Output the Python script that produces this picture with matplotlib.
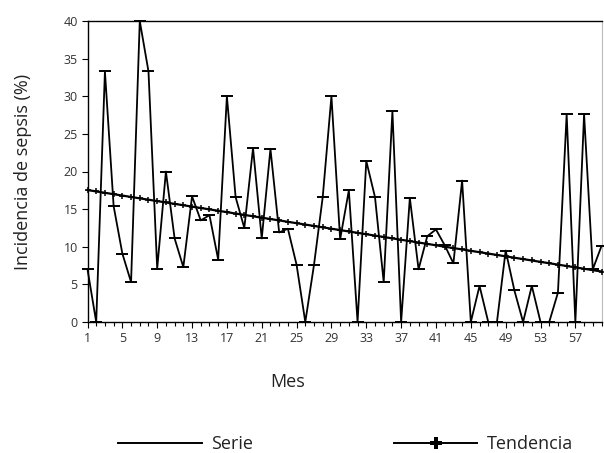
import numpy as np
import matplotlib
matplotlib.use("Agg")
import matplotlib.pyplot as plt
from matplotlib.lines import Line2D

# ---- data ----
months = list(range(1, 61))
incidence = [7.0, 0.0, 33.3, 15.4, 9.1, 5.3, 40.0, 33.3, 7.1, 20.0,
             11.1, 7.3, 16.7, 13.5, 14.2, 8.3, 30.0, 16.6, 12.5, 23.1,
             11.1, 23.0, 11.9, 12.4, 7.6, 0.0, 7.6, 16.6, 30.0, 11.0,
             17.5, 0.0, 21.4, 16.6, 5.3, 28.0, 0.0, 16.5, 7.0, 11.4,
             12.3, 10.2, 7.8, 18.8, 0.0, 4.8, 0.0, 0.0, 9.5, 4.2,
             0.0, 4.8, 0.0, 0.0, 3.9, 27.6, 0.0, 27.6, 7.0, 10.1]
xtick_labels = [1, 5, 9, 13, 17, 21, 25, 29, 33, 37, 41, 45, 49, 53, 57]
ytick_values = [0, 5, 10, 15, 20, 25, 30, 35, 40]

# trend = least-squares linear fit of the series
coef = np.polyfit(months, incidence, 1)
trend = np.polyval(coef, months)

plt.rcParams['font.family'] = ['Open Sans', 'DejaVu Sans']

fig = plt.figure(figsize=(6.04, 4.53), dpi=100)
ax = fig.add_axes([87.5 / 604, 1 - 322 / 453, (601.5 - 87.5) / 604, (322 - 21) / 453])

ax.plot(months, incidence, color='black', lw=1.3, marker='_', ms=8, mew=1.4,
        zorder=3, clip_on=False)
ax.plot(months, trend, color='black', lw=1.6, marker='+', ms=5, mew=1.1,
        zorder=4, clip_on=False)

ax.set_xlim(1, 60)
ax.set_ylim(0, 40)
ax.set_xticks(xtick_labels)
ax.set_xticklabels([str(v) for v in xtick_labels])
ax.set_xticks(months, minor=True)
ax.set_yticks(ytick_values)
ax.tick_params(axis='both', which='both', direction='out', labelsize=9,
               colors='black', labelcolor='#333333', width=0.8)
ax.tick_params(axis='x', which='major', length=4, pad=3)
ax.tick_params(axis='x', which='minor', length=3)
ax.tick_params(axis='y', length=4, pad=3)

for s in ['left', 'bottom', 'top']:
    ax.spines[s].set_linewidth(1.0)
    ax.spines[s].set_color('black')
ax.spines['right'].set_color('#bbbbbb')
ax.spines['right'].set_linewidth(0.8)

fig.text(23 / 604, 1 - 172 / 453, 'Incidencia de sepsis (%)', rotation=90,
         ha='center', va='center', fontsize=13, color='#222222')
fig.text(288 / 604, 1 - 382 / 453, 'Mes', ha='center', va='center',
         fontsize=13, color='#222222')

h1 = Line2D([], [], color='black', lw=1.4)
h2 = Line2D([], [], color='black', lw=1.4, marker='P', ms=9, mew=0)
fig.legend([h1, h2], ['Serie', 'Tendencia'], loc='center',
           bbox_to_anchor=(346 / 604, 1 - 444 / 453), ncol=2, frameon=False,
           fontsize=13, handlelength=4.6, handletextpad=0.55,
           columnspacing=7.8, numpoints=1, labelcolor='#222222',
           borderaxespad=0, borderpad=0)

fig.savefig('out.png', dpi=100)
